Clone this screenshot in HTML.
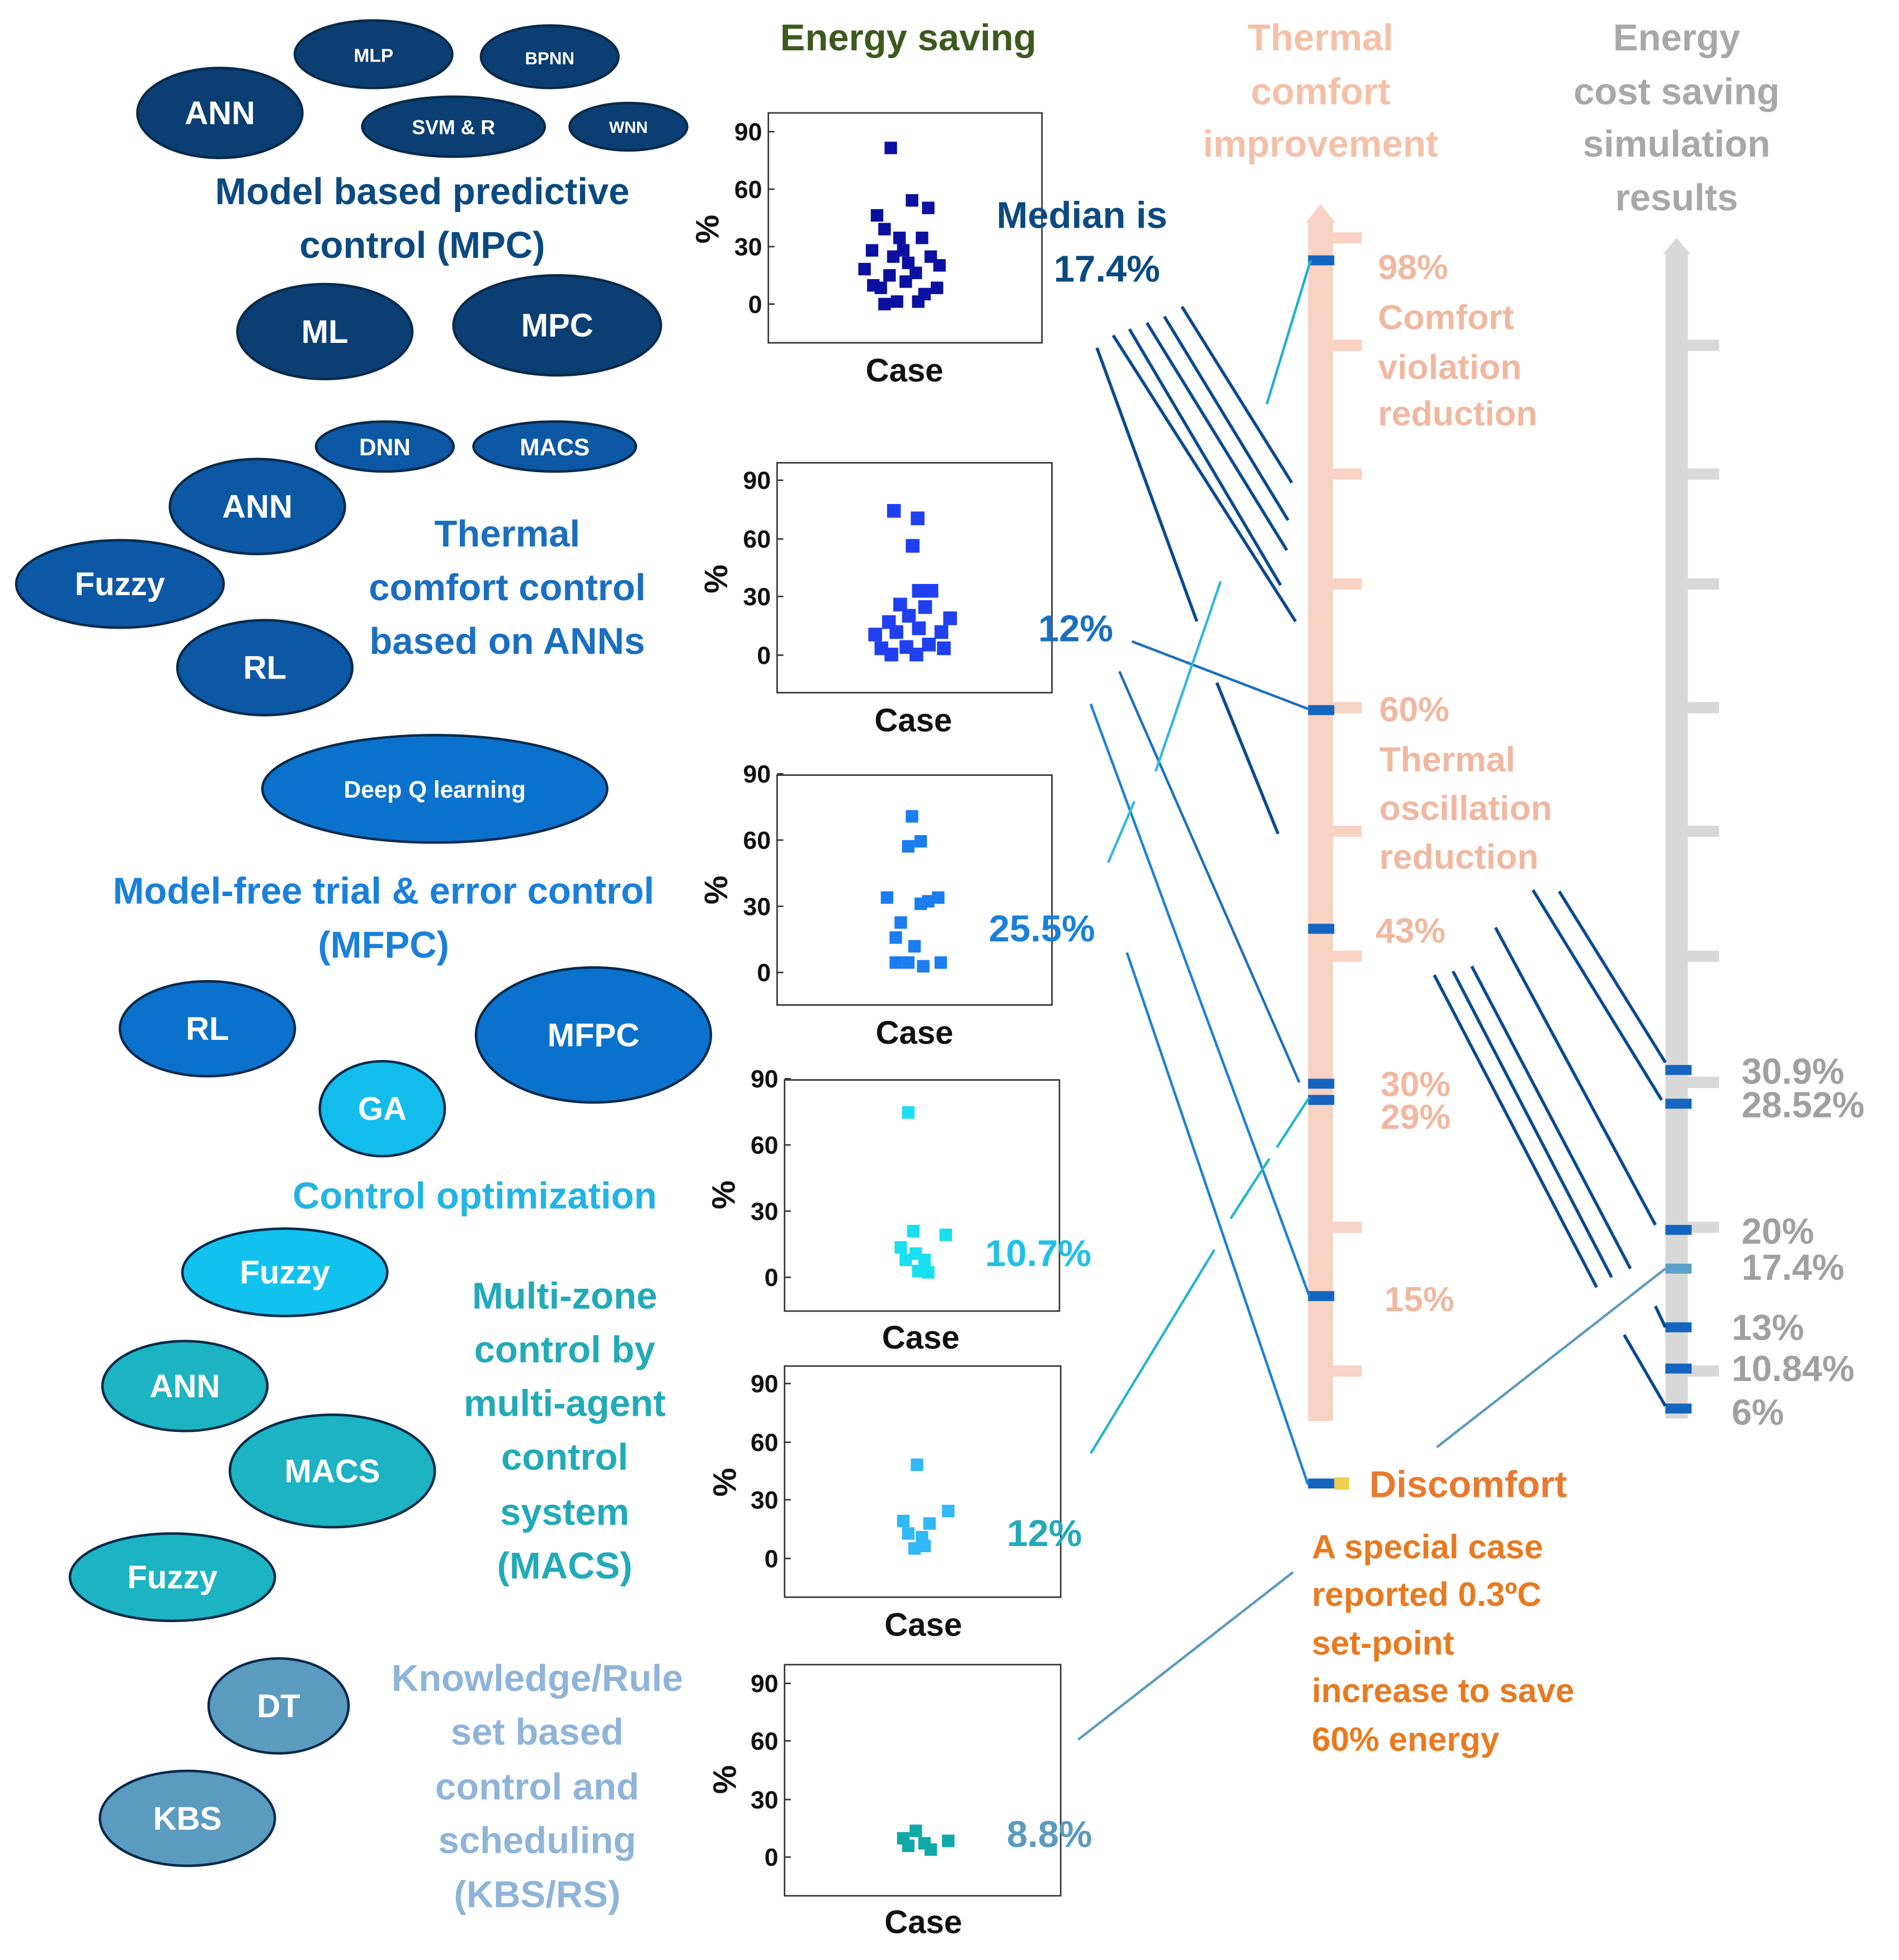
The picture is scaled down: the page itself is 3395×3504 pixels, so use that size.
<!DOCTYPE html>
<html><head><meta charset="utf-8"><style>html,body{margin:0;padding:0;background:#fff}svg{display:block}text{font-family:"Liberation Sans",sans-serif;font-weight:bold}</style></head><body>
<svg width="3395" height="3504" viewBox="0 0 1520 1568" xmlns="http://www.w3.org/2000/svg">
<rect width="1520" height="1568" fill="#fff"/>
<!-- ellipses -->
<g stroke="#082a4a" stroke-width="2" text-anchor="middle" fill="#fff">
<g fill="#0b3f73">
<ellipse cx="176" cy="90" rx="66" ry="36"/><ellipse cx="299" cy="43" rx="63" ry="27"/><ellipse cx="440" cy="45" rx="55" ry="25"/><ellipse cx="363" cy="101" rx="73" ry="24"/><ellipse cx="503" cy="101" rx="47" ry="19"/><ellipse cx="260" cy="265" rx="70" ry="38"/><ellipse cx="446" cy="260" rx="83" ry="40"/>
</g>
<g fill="#0c58a4">
<ellipse cx="308" cy="357" rx="55" ry="20"/><ellipse cx="444" cy="357" rx="65" ry="20"/><ellipse cx="206" cy="405" rx="70" ry="38"/><ellipse cx="96" cy="467" rx="83" ry="35"/><ellipse cx="212" cy="534" rx="70" ry="38"/>
</g>
<g fill="#0a72cc">
<ellipse cx="348" cy="631" rx="138" ry="43"/><ellipse cx="166" cy="823" rx="70" ry="38"/><ellipse cx="475" cy="828" rx="94" ry="54"/>
</g>
<ellipse cx="306" cy="887" rx="50" ry="38" fill="#12bdec"/>
<ellipse cx="228" cy="1018" rx="82" ry="35" fill="#12c2ee"/>
<g fill="#1cb3c2">
<ellipse cx="148" cy="1109" rx="66" ry="36"/><ellipse cx="266" cy="1177" rx="82" ry="45"/><ellipse cx="138" cy="1262" rx="82" ry="35"/>
</g>
<g fill="#5b9bbf">
<ellipse cx="223" cy="1365" rx="56" ry="38"/><ellipse cx="150" cy="1455" rx="70" ry="38"/>
</g>
</g>
<g text-anchor="middle" fill="#fff" stroke="none">
<text x="176" y="99" font-size="26">ANN</text><text x="299" y="49" font-size="15">MLP</text><text x="440" y="51" font-size="14">BPNN</text><text x="363" y="107" font-size="16">SVM &amp; R</text><text x="503" y="106" font-size="13">WNN</text><text x="260" y="274" font-size="26">ML</text><text x="446" y="269" font-size="26">MPC</text>
<text x="308" y="364" font-size="19">DNN</text><text x="444" y="364" font-size="19">MACS</text><text x="206" y="414" font-size="26">ANN</text><text x="96" y="476" font-size="26">Fuzzy</text><text x="212" y="543" font-size="26">RL</text>
<text x="348" y="638" font-size="19">Deep Q learning</text><text x="166" y="832" font-size="26">RL</text><text x="475" y="837" font-size="26">MFPC</text><text x="306" y="896" font-size="26">GA</text><text x="228" y="1027" font-size="26">Fuzzy</text>
<text x="148" y="1118" font-size="26">ANN</text><text x="266" y="1186" font-size="26">MACS</text><text x="138" y="1271" font-size="26">Fuzzy</text><text x="223" y="1374" font-size="26">DT</text><text x="150" y="1464" font-size="26">KBS</text>
</g>
<!-- group titles -->
<g text-anchor="middle" font-size="30">
<g fill="#0b4a80"><text x="338" y="163">Model based predictive</text><text x="338" y="206">control (MPC)</text></g>
<g fill="#1a6fc0"><text x="406" y="437">Thermal</text><text x="406" y="480">comfort control</text><text x="406" y="523">based on ANNs</text></g>
<g fill="#1a80d8"><text x="307" y="723">Model-free trial &amp; error control</text><text x="307" y="766">(MFPC)</text></g>
<text x="380" y="967" fill="#22b4e4">Control optimization</text>
<g fill="#22aab8"><text x="452" y="1047">Multi-zone</text><text x="452" y="1090">control by</text><text x="452" y="1133">multi-agent</text><text x="452" y="1176">control</text><text x="452" y="1220">system</text><text x="452" y="1263">(MACS)</text></g>
<g fill="#8fb4d8"><text x="430" y="1353">Knowledge/Rule</text><text x="430" y="1396">set based</text><text x="430" y="1440">control and</text><text x="430" y="1483">scheduling</text><text x="430" y="1526">(KBS/RS)</text></g>
<text x="727" y="40" fill="#3d5a1e">Energy saving</text>
</g>
<!-- plots -->
<g fill="none" stroke="#333" stroke-width="1.2">
<rect x="615" y="90" width="219" height="184"/><rect x="622" y="370" width="220" height="184"/><rect x="622" y="620" width="220" height="184"/><rect x="628" y="864" width="220" height="185"/><rect x="628" y="1093" width="221" height="185"/><rect x="628" y="1332" width="221" height="185"/>
</g>
<g font-size="20" text-anchor="end" fill="#111">
<text x="610" y="112">90</text><text x="610" y="158">60</text><text x="610" y="204">30</text><text x="610" y="250">0</text>
<text x="617" y="391">90</text><text x="617" y="438">60</text><text x="617" y="484">30</text><text x="617" y="531">0</text>
<text x="617" y="626">90</text><text x="617" y="679">60</text><text x="617" y="732">30</text><text x="617" y="785">0</text>
<text x="623" y="870">90</text><text x="623" y="923">60</text><text x="623" y="976">30</text><text x="623" y="1029">0</text>
<text x="623" y="1114">90</text><text x="623" y="1161">60</text><text x="623" y="1207">30</text><text x="623" y="1254">0</text>
<text x="623" y="1354">90</text><text x="623" y="1400">60</text><text x="623" y="1447">30</text><text x="623" y="1493">0</text>
</g>
<g stroke="#333" stroke-width="1.2">
<path d="M615 105h5M615 151h5M615 197h5M615 243h5M622 384h5M622 431h5M622 477h5M622 524h5M622 619h5M622 672h5M622 725h5M622 778h5M628 863h5M628 916h5M628 969h5M628 1022h5M628 1107h5M628 1154h5M628 1200h5M628 1247h5M628 1347h5M628 1393h5M628 1440h5M628 1486h5"/>
</g>
<g font-size="26" text-anchor="middle" fill="#111">
<text x="724" y="305">Case</text><text x="731" y="585">Case</text><text x="732" y="835">Case</text><text x="737" y="1079">Case</text><text x="739" y="1309">Case</text><text x="739" y="1547">Case</text>
<text transform="translate(575,183) rotate(-90)">%</text><text transform="translate(582,463) rotate(-90)">%</text><text transform="translate(582,712) rotate(-90)">%</text><text transform="translate(588,956) rotate(-90)">%</text><text transform="translate(589,1186) rotate(-90)">%</text><text transform="translate(589,1424) rotate(-90)">%</text>
</g>
<!-- points -->
<g fill="#0a10a0">
<rect x="708" y="113" width="10" height="10"/><rect x="697" y="167" width="10" height="10"/><rect x="725" y="155" width="10" height="10"/><rect x="738" y="161" width="10" height="10"/><rect x="703" y="178" width="10" height="10"/><rect x="715" y="185" width="10" height="10"/><rect x="733" y="185" width="10" height="10"/><rect x="693" y="195" width="10" height="10"/><rect x="710" y="200" width="10" height="10"/><rect x="722" y="205" width="10" height="10"/><rect x="740" y="200" width="10" height="10"/><rect x="707" y="215" width="10" height="10"/><rect x="728" y="213" width="10" height="10"/><rect x="747" y="207" width="10" height="10"/><rect x="687" y="210" width="10" height="10"/><rect x="700" y="225" width="10" height="10"/><rect x="720" y="220" width="10" height="10"/><rect x="735" y="230" width="10" height="10"/><rect x="703" y="238" width="10" height="10"/><rect x="713" y="236" width="10" height="10"/><rect x="730" y="236" width="10" height="10"/><rect x="745" y="225" width="10" height="10"/><rect x="718" y="195" width="10" height="10"/><rect x="694" y="223" width="10" height="10"/>
</g>
<g fill="#2040f0">
<rect x="710" y="403" width="11" height="11"/><rect x="729" y="409" width="11" height="11"/><rect x="725" y="431" width="11" height="11"/><rect x="730" y="467" width="11" height="11"/><rect x="740" y="467" width="11" height="11"/><rect x="715" y="478" width="11" height="11"/><rect x="735" y="480" width="11" height="11"/><rect x="706" y="492" width="11" height="11"/><rect x="722" y="487" width="11" height="11"/><rect x="755" y="489" width="11" height="11"/><rect x="695" y="502" width="11" height="11"/><rect x="712" y="500" width="11" height="11"/><rect x="730" y="497" width="11" height="11"/><rect x="748" y="500" width="11" height="11"/><rect x="700" y="513" width="11" height="11"/><rect x="720" y="512" width="11" height="11"/><rect x="738" y="510" width="11" height="11"/><rect x="750" y="513" width="11" height="11"/><rect x="708" y="518" width="11" height="11"/><rect x="728" y="518" width="11" height="11"/>
</g>
<g fill="#1a7ef0">
<rect x="725" y="648" width="10" height="10"/><rect x="722" y="672" width="10" height="10"/><rect x="732" y="668" width="10" height="10"/><rect x="705" y="713" width="10" height="10"/><rect x="746" y="713" width="10" height="10"/><rect x="732" y="718" width="10" height="10"/><rect x="738" y="716" width="10" height="10"/><rect x="716" y="733" width="10" height="10"/><rect x="712" y="745" width="10" height="10"/><rect x="727" y="752" width="10" height="10"/><rect x="712" y="765" width="10" height="10"/><rect x="722" y="765" width="10" height="10"/><rect x="734" y="768" width="10" height="10"/><rect x="748" y="765" width="10" height="10"/>
</g>
<g fill="#18e0f0">
<rect x="722" y="885" width="10" height="10"/><rect x="726" y="980" width="10" height="10"/><rect x="752" y="983" width="10" height="10"/><rect x="716" y="993" width="10" height="10"/><rect x="728" y="998" width="10" height="10"/><rect x="735" y="1003" width="10" height="10"/><rect x="720" y="1003" width="10" height="10"/><rect x="730" y="1012" width="10" height="10"/><rect x="738" y="1013" width="10" height="10"/>
</g>
<g fill="#30b8f8">
<rect x="729" y="1167" width="10" height="10"/><rect x="754" y="1204" width="10" height="10"/><rect x="718" y="1212" width="10" height="10"/><rect x="739" y="1214" width="10" height="10"/><rect x="722" y="1222" width="10" height="10"/><rect x="733" y="1225" width="10" height="10"/><rect x="727" y="1234" width="10" height="10"/><rect x="735" y="1232" width="10" height="10"/>
</g>
<g fill="#10a8a8">
<rect x="718" y="1466" width="10" height="10"/><rect x="728" y="1460" width="10" height="10"/><rect x="754" y="1468" width="10" height="10"/><rect x="722" y="1472" width="10" height="10"/><rect x="735" y="1470" width="10" height="10"/><rect x="740" y="1475" width="10" height="10"/>
</g>
<!-- value labels -->
<g font-size="30">
<text x="866" y="182" text-anchor="middle" fill="#0b4a80">Median is</text><text x="886" y="225" text-anchor="middle" fill="#0b4a80">17.4%</text>
<text x="861" y="513" text-anchor="middle" fill="#1a6fc0">12%</text><text x="834" y="753" text-anchor="middle" fill="#1a80d8">25.5%</text><text x="831" y="1013" text-anchor="middle" fill="#22c0e8">10.7%</text><text x="836" y="1237" text-anchor="middle" fill="#22aab8">12%</text><text x="840" y="1478" text-anchor="middle" fill="#5b9bbf">8.8%</text>
</g>
<!-- thermal axis -->
<rect x="1047" y="175" width="20" height="962" fill="#f8d2c2"/>
<path d="M1045 178 L1057 163 L1069 178Z" fill="#f8d2c2"/>
<g stroke="#f8d2c2" stroke-width="9"><path d="M1067 190h23M1067 276h23M1067 379h23M1067 467h23M1067 566h23M1067 665h23M1067 765h23M1067 982h23M1067 1097h23"/></g>
<g fill="#1565c0"><rect x="1047" y="204" width="21" height="8"/><rect x="1047" y="564" width="21" height="8"/><rect x="1047" y="739" width="21" height="8"/><rect x="1047" y="863" width="21" height="8"/><rect x="1047" y="876" width="21" height="8"/><rect x="1047" y="1033" width="21" height="8"/><rect x="1047" y="1183" width="21" height="8"/></g>
<rect x="1068" y="1182" width="12" height="10" fill="#f0d050"/>
<g font-size="30" text-anchor="middle" fill="#f4c0a8"><text x="1057" y="40">Thermal</text><text x="1057" y="83">comfort</text><text x="1057" y="125">improvement</text></g>
<g font-size="28" fill="#f0b8a0"><text x="1103" y="223">98%</text><text x="1103" y="263">Comfort</text><text x="1103" y="303">violation</text><text x="1103" y="340">reduction</text>
<text x="1104" y="577">60%</text><text x="1104" y="617">Thermal</text><text x="1104" y="656">oscillation</text><text x="1104" y="695">reduction</text><text x="1101" y="754">43%</text><text x="1105" y="877">30%</text><text x="1105" y="903">29%</text><text x="1108" y="1049">15%</text></g>
<text x="1096" y="1198" font-size="30" fill="#e87a30">Discomfort</text>
<g font-size="27" fill="#e87a20"><text x="1050" y="1247">A special case</text><text x="1050" y="1285">reported 0.3ºC</text><text x="1050" y="1324">set-point</text><text x="1050" y="1362">increase to save</text><text x="1050" y="1401">60% energy</text></g>
<!-- energy cost axis -->
<rect x="1333" y="200" width="18" height="935" fill="#d8d8d8"/>
<path d="M1331 203 L1342 190 L1353 203Z" fill="#d8d8d8"/>
<g stroke="#d8d8d8" stroke-width="9"><path d="M1351 276h25M1351 379h25M1351 467h25M1351 566h25M1351 665h25M1351 765h25M1351 866h25M1351 982h25M1351 1097h25"/></g>
<g fill="#1565c0"><rect x="1333" y="852" width="21" height="8"/><rect x="1333" y="879" width="21" height="8"/><rect x="1333" y="980" width="21" height="8"/><rect x="1333" y="1058" width="21" height="8"/><rect x="1333" y="1091" width="21" height="8"/><rect x="1333" y="1123" width="21" height="8"/></g>
<rect x="1333" y="1011" width="21" height="8" fill="#5ba0c8"/>
<g font-size="30" text-anchor="middle" fill="#a8a8a8"><text x="1342" y="40">Energy</text><text x="1342" y="83">cost saving</text><text x="1342" y="125">simulation</text><text x="1342" y="168">results</text></g>
<g font-size="29" fill="#a0a0a0"><text x="1394" y="867">30.9%</text><text x="1394" y="894">28.52%</text><text x="1394" y="995">20%</text><text x="1394" y="1024">17.4%</text><text x="1386" y="1072">13%</text><text x="1386" y="1105">10.84%</text><text x="1386" y="1140">6%</text></g>
<!-- connector lines -->
<g stroke="#0b4a90" stroke-width="2.5" fill="none">
<path d="M946 245L1034 386M932 253L1031 416M918 258L1030 440M904 263L1025 468M891 268L1037 497M878 278L958 497M974 546L1023 667"/>
<path d="M1248 713L1333 850M1227 712L1330 880M1197 742L1325 980M1178 773L1305 1015M1163 777L1290 1022M1148 780L1278 1030M1300 1068L1333 1125M1325 1045L1333 1062"/>
</g>
<g stroke-width="2" fill="none">
<path d="M1014 323L1049 208" stroke="#20b0d0"/>
<path d="M906 513L1047 567" stroke="#1a6fc0"/>
<path d="M896 537L1040 866" stroke="#1a6fc0"/>
<path d="M873 563L1048 1037" stroke="#1a80d8"/>
<path d="M902 762L1047 1188" stroke="#1a80d8"/>
<path d="M977 465L925 617M908 641L887 690" stroke="#30b8e0"/>
<path d="M1048 878L1022 918M1016 927L985 975M972 1000L873 1163" stroke="#20b8c8"/>
<path d="M1035 1258L863 1392" stroke="#5b9bbf"/>
<path d="M1150 1158L1333 1015" stroke="#5b9bbf"/>
</g>
</svg>
</body></html>
